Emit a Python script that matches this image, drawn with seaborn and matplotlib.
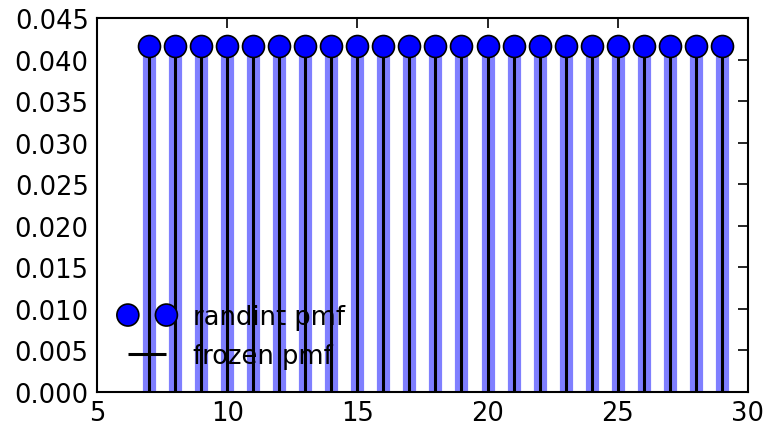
import numpy as np
import pandas as pd
import matplotlib
matplotlib.use("Agg")
import matplotlib.pyplot as plt
from matplotlib.ticker import FormatStrFormatter
import seaborn as sns

# randint(7, 31) pmf, shown for x = 7..29
x_values = list(range(7, 30))
pmf_values = [0.041667] * len(x_values)
x_ticks = [5, 10, 15, 20, 25, 30]
y_ticks = [0.000, 0.005, 0.010, 0.015, 0.020, 0.025, 0.030, 0.035, 0.040, 0.045]

df = pd.DataFrame({"x": x_values, "pmf": pmf_values})

sns.set_style("white")
plt.rcParams["font.family"] = ["DejaVu Sans"]
plt.rcParams["font.size"] = 18.5
plt.rcParams["text.color"] = "k"

fig = plt.figure(figsize=(7.67, 4.27), dpi=100)
ax = fig.add_axes([0.1265, 0.0796, 0.8485, 0.876])

ax.vlines(df["x"], 0, df["pmf"], colors="b", lw=9.5, alpha=0.5, zorder=1)
ax.vlines(df["x"], 0, df["pmf"], colors="k", linestyles="-", lw=2.2,
          label="frozen pmf", zorder=1)
sns.scatterplot(data=df, x="x", y="pmf", ax=ax, color="b", s=250,
                edgecolor="k", linewidth=1.2, label="randint pmf", zorder=3)

ax.set_xlim(5, 30)
ax.set_ylim(0, 0.045)
ax.set_xticks(x_ticks)
ax.set_yticks(y_ticks)
ax.yaxis.set_major_formatter(FormatStrFormatter("%.3f"))
ax.set_xlabel("")
ax.set_ylabel("")
ax.tick_params(direction="in", top=True, right=True, length=7.5, width=1.2,
               labelsize=18.5, pad=6, colors="k")
for s in ax.spines.values():
    s.set_linewidth(1.5)
    s.set_color("k")

handles, labels = ax.get_legend_handles_labels()
order = [labels.index("randint pmf"), labels.index("frozen pmf")]
leg = ax.legend([handles[i] for i in order], [labels[i] for i in order],
                loc="lower left", frameon=False, scatterpoints=2,
                scatteryoffsets=[0.5], fontsize=18.5, handlelength=2.1,
                handletextpad=0.75, borderaxespad=0.45, labelspacing=0.5,
                borderpad=0.45)
for t in leg.get_texts():
    t.set_color("k")

fig.savefig("out.png", dpi=100)
